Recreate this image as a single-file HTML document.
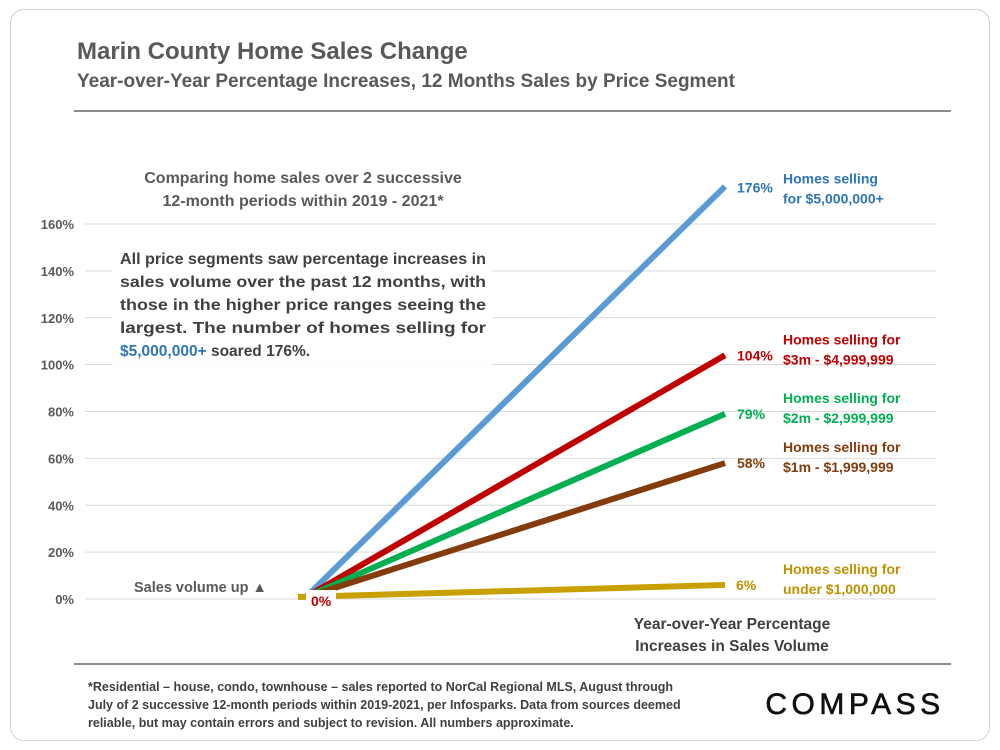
<!DOCTYPE html>
<html><head><meta charset="utf-8"><style>
body{margin:0;width:1000px;height:750px;background:#fff;font-family:"Liberation Sans",sans-serif;overflow:hidden}
.card{position:absolute;left:10px;top:9px;width:978px;height:730px;border:1.5px solid #d0d0d0;border-radius:14px}
</style></head><body>
<div class="card"></div>
<svg width="1000" height="750" style="position:absolute;left:0;top:0" font-family="Liberation Sans, sans-serif">
<text x="77" y="59" font-size="24" font-weight="bold" fill="#595959">Marin County Home Sales Change</text>
<text x="77" y="87" font-size="19" font-weight="bold" fill="#595959">Year-over-Year Percentage Increases, 12 Months Sales by Price Segment</text>
<line x1="74" y1="111" x2="951" y2="111" stroke="#666" stroke-width="1.5"/>
<line x1="74" y1="664" x2="951" y2="664" stroke="#666" stroke-width="1.5"/>
<g id="grid"></g><g id="lines"></g><g id="labels"></g>
<text x="303" y="183" font-size="16" font-weight="bold" fill="#595959" text-anchor="middle"><tspan x="303">Comparing home sales over 2 successive</tspan><tspan x="303" dy="23">12-month periods within 2019 - 2021*</tspan></text>
<rect x="112" y="245" width="380" height="120" fill="#fff"/>
<text font-size="15.5" font-weight="bold" fill="#404040">
<tspan x="120" y="264" textLength="366" lengthAdjust="spacingAndGlyphs">All price segments saw percentage increases in</tspan>
<tspan x="120" y="287" textLength="366" lengthAdjust="spacingAndGlyphs">sales volume over the past 12 months, with</tspan>
<tspan x="120" y="310" textLength="366" lengthAdjust="spacingAndGlyphs">those in the higher price ranges seeing the</tspan>
<tspan x="120" y="333" textLength="366" lengthAdjust="spacingAndGlyphs">largest. The number of homes selling for</tspan>
<tspan x="120" y="356"><tspan fill="#2e75b6">$5,000,000+</tspan> soared 176%.</tspan></text>
<rect x="128" y="576" width="145" height="20" fill="#fff"/>
<text x="134" y="592" font-size="14.5" font-weight="bold" fill="#595959">Sales volume up ▲</text>
<text x="732" y="629" font-size="15.5" font-weight="bold" fill="#404040" text-anchor="middle"><tspan x="732">Year-over-Year Percentage</tspan><tspan x="732" dy="22">Increases in Sales Volume</tspan></text>
<text font-size="12.5" font-weight="bold" fill="#404040"><tspan x="88" y="691">*Residential – house, condo, townhouse – sales reported to NorCal Regional MLS, August through</tspan><tspan x="88" y="709">July of 2 successive 12-month periods within 2019-2021, per Infosparks. Data from sources deemed</tspan><tspan x="88" y="727">reliable, but may contain errors and subject to revision. All numbers  approximate.</tspan></text>
<text x="855" y="714" font-size="30" fill="#111" stroke="#111" stroke-width="0.6" text-anchor="middle" letter-spacing="4.5">COMPASS</text>
</svg>
<script>
const ticks=[0,20,40,60,80,100,120,140,160];
const segments=["Homes selling|for $5,000,000+","Homes selling for|$3m - $4,999,999","Homes selling for|$2m - $2,999,999","Homes selling for|$1m - $1,999,999","Homes selling for|under $1,000,000"];
const values=[176,104,79,58,6];
const colors=["#5b9bd5","#c00000","#00b050","#843c0c","#c9a000"];
const textColors=["#2e75b6","#c00000","#00b050","#843c0c","#bf9000"];
const NS="http://www.w3.org/2000/svg";
const y=v=>599-v*(375/160);
const x0=306,x1=725;
function el(t,a,p){const e=document.createElementNS(NS,t);for(const k in a)e.setAttribute(k,a[k]);document.getElementById(p).appendChild(e);return e;}
ticks.forEach(t=>{
 const l=el('line',{x1:85,x2:936,y1:y(t),y2:y(t),stroke:'#d9d9d9','stroke-width':1},'grid');
 
 
 const tx=el('text',{x:74,y:y(t)+5,'font-size':13,'font-weight':'bold',fill:'#595959','text-anchor':'end'},'grid');
 tx.textContent=t+'%';
 
 
});
values.forEach((v,i)=>{
 const ln=el('line',{x1:i==4?298:x0,y1:y(0)-2,x2:x1,y2:y(v),stroke:colors[i],'stroke-width':6,'stroke-linecap':'butt'},'lines');
 
 
 const vl=el('text',{x:i==4?736:737,y:y(v)+(i==0?6:5),'font-size':14,'font-weight':'bold',fill:textColors[i]},'labels');
 vl.textContent=v+'%';
 
 
 const parts=segments[i].split('|');
 const sl=el('text',{'font-size':14,'font-weight':'bold',fill:textColors[i]},'labels');
 
 
 const by=i==0?y(v)-3:y(v)-11;
 parts.forEach((p,j)=>{const ts=document.createElementNS(NS,'tspan');ts.setAttribute('x',783);ts.setAttribute('y',by+j*20);ts.textContent=p;sl.appendChild(ts);});
});
const zb=el('rect',{x:306,y:590,width:30,height:20,fill:'#fff'},'labels');
const z=el('text',{x:311,y:606,'font-size':14,'font-weight':'bold',fill:'#c00000'},'labels');
z.textContent='0%';


</script>
</body></html>
